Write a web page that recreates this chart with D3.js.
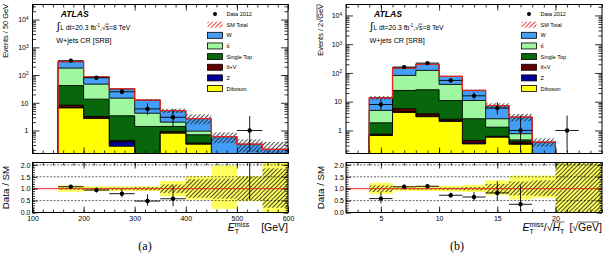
<!DOCTYPE html>
<html>
<head>
<meta charset="utf-8">
<script src="https://cdn.jsdelivr.net/npm/d3@7"></script>
<style>
  body { margin: 0; background: #fff; }
  svg { display: block; font-family: "Liberation Sans", Arial, sans-serif; }
</style>
</head>
<body>
<script>
// plot (a): ETmiss, 50 GeV bins
const edgesA = [100, 150, 200, 250, 300, 350, 400, 450, 500, 550, 600];
const wA   = [0, 127, 38, 16.9, 8.3, 3.2, 1.75, 0.6, 0.32, 0.21];
const ttA  = [0, 136, 33.5, 11.3, 2.8, 0.6, 0.25, 0, 0, 0];
const stA  = [0, 33.5, 10.3, 2.95, 1.4, 0.5, 0.35, 0, 0, 0];
const ttvA = [0, 1.5, 0.4, 0.05, 0, 0.1, 0.03, 0, 0, 0];
const zA   = [0, 0.2, 0.1, 0.12, 0, 0, 0, 0, 0, 0];
const dibA = [0, 6.5, 2.7, 0.27, 0, 0.8, 0.32, 0, 0, 0];
const dataA = [0, 330, 80, 25, 6, 3, 0, 0, 1, 0];
// relative uncertainty bands (ratio panel)
const yelLoA = [null, 0.87, 0.9, 0.9, 0.9, 0.68, 0.54, 0.15, 0.48, 0];
const yelHiA = [null, 1.13, 1.1, 1.1, 1.1, 1.32, 1.52, 1.97, 1.52, 2.1];
const hatLoA = [null, 0.96, 0.96, 0.95, 0.93, 0.82, 0.62, 0.58, 0.52, 0.2];
const hatHiA = [null, 1.04, 1.04, 1.05, 1.07, 1.18, 1.4, 1.42, 1.5, 1.85];

// plot (b): ETmiss / sqrt(HT), 2 sqrt(GeV) bins
const edgesB = [2, 4, 6, 8, 10, 12, 14, 16, 18, 20, 22, 24];
const wB   = [0, 8.7, 66, 77, 36, 13.6, 4.75, 2.13, 0.39, 0, 0];
const ttB  = [0, 3.15, 57.4, 97, 29, 8.45, 1.25, 0.3, 0, 0, 0];
const stB  = [0, 1.1, 18.9, 22.2, 8.5, 2.1, 0.67, 0.07, 0, 0, 0];
const ttvB = [0, 0.05, 1.2, 0.6, 0.3, 0.08, 0.05, 0.05, 0, 0, 0];
const zB   = [0, 0.02, 0.3, 0.2, 0.1, 0.03, 0, 0.02, 0, 0, 0];
const dibB = [0, 0.67, 4.2, 3.0, 2.06, 0.34, 0.58, 0.33, 0, 0, 0];
const dataB = [0, 8, 160, 220, 55, 16, 6, 1, 0, 1, 0];
const yelLoB = [null, 0.77, 0.9, 0.9, 0.88, 0.86, 0.73, 0.55, 0.62, 0, 0];
const yelHiB = [null, 1.25, 1.12, 1.12, 1.12, 1.16, 1.35, 1.55, 1.55, 2.1, 2.1];
const hatLoB = [null, 0.86, 0.96, 0.96, 0.95, 0.93, 0.8, 0.72, 0.7, 0, 0];
const hatHiB = [null, 1.14, 1.04, 1.04, 1.05, 1.07, 1.2, 1.3, 1.35, 2.1, 2.1];

const logTicks = [1, 10, 100, 1000, 10000];
const ratioTicks = [0, 0.5, 1, 1.5, 2];
const legendLabels = ["Data 2012", "SM Total"];
const layerNames = ["Diboson", "Z", "tt\u0304+V", "Single Top", "tt\u0304", "W"];
const layerColors = ["#ffff00", "#000099", "#660000", "#08670a", "#9ff79f", "#459ef5"];

const FONT = '"Liberation Sans", Arial, sans-serif';
const SERIF = '"Liberation Serif", "DejaVu Serif", serif';
const Y0 = 4.5, Y1 = 153.5, R0 = 162.5, R1 = 212.5;
const RED = "#e8251f";

const svg = d3.select("body").append("svg").attr("width", 604).attr("height", 253);
const defs = svg.append("defs");

function hatch(id, color, width) {
  const p = defs.append("pattern").attr("id", id)
    .attr("patternUnits", "userSpaceOnUse")
    .attr("width", 3).attr("height", 3)
    .attr("patternTransform", "rotate(45)");
  p.append("line").attr("x1", 0.5).attr("y1", 0).attr("x2", 0.5).attr("y2", 3)
    .attr("stroke", color).attr("stroke-width", width);
}
hatch("hatchK", "#1a1a1a", 0.8);
hatch("hatchR", RED, 0.9);

// garwood poisson interval (wilson-hilferty approx)
const poisLo = n => n * Math.pow(1 - 1 / (9 * n) - 1 / (3 * Math.sqrt(n)), 3);
const poisHi = n => (n + 1) * Math.pow(1 - 1 / (9 * (n + 1)) + 1 / (3 * Math.sqrt(n + 1)), 3);

// text made of pieces (sub/superscripts, overlines), returns width
function rich(parent, pieces) {
  let cx = 0, held = 0;
  pieces.forEach(pc => {
    if (pc.gap) { cx += pc.gap; return; }
    const t = parent.append("text").attr("x", cx).attr("y", pc.dy || 0)
      .attr("font-size", pc.size).text(pc.t);
    if (pc.it) t.attr("font-style", "italic");
    if (pc.bold) t.attr("font-weight", "bold");
    if (pc.serif) t.style("font-family", SERIF);
    const w = t.node().getComputedTextLength();
    if (pc.over != null) {
      parent.append("line").attr("x1", cx - 0.3).attr("x2", cx + w)
        .attr("y1", pc.over).attr("y2", pc.over)
        .attr("stroke", "#000").attr("stroke-width", 0.6);
    }
    if (pc.hold) held = w;
    else { cx += Math.max(w, held); held = 0; }
  });
  return cx;
}

function drawPlot(p) {
  const g = svg.append("g");
  const nb = p.edges.length - 1;
  const bins = d3.range(nb);
  const x = d3.scaleLinear().domain([p.edges[0], p.edges[nb]]).range([p.x0, p.x1]);
  const y = d3.scaleLog().domain(p.yDomain).range([Y1, Y0]);
  const r = d3.scaleLinear().domain([0, 2.1]).range([R1, R0]);

  defs.append("clipPath").attr("id", "top" + p.id).append("rect")
    .attr("x", p.x0).attr("y", Y0).attr("width", p.x1 - p.x0).attr("height", Y1 - Y0);
  defs.append("clipPath").attr("id", "rat" + p.id).append("rect")
    .attr("x", p.x0).attr("y", R0).attr("width", p.x1 - p.x0).attr("height", R1 - R0);

  // stack sums
  let run = bins.map(() => 0);
  const cums = p.layers.map(l => {
    run = run.map((v, i) => v + l[i]);
    return run.slice();
  });
  const total = cums[cums.length - 1];

  const yv = v => (v > p.yDomain[0] ? y(v) : Y1 + 2);
  const step = vals => {
    let s = `M${x(p.edges[0])},${Y1 + 2}`;
    bins.forEach(i => {
      s += `L${x(p.edges[i])},${yv(vals[i])}L${x(p.edges[i + 1])},${yv(vals[i])}`;
    });
    return s + `L${x(p.edges[nb])},${Y1 + 2}`;
  };
  const xl = i => x(p.edges[i]);
  const xr = i => x(p.edges[i + 1]);
  const xc = i => x((p.edges[i] + p.edges[i + 1]) / 2);

  // ---- top panel
  const gt = g.append("g").attr("clip-path", `url(#top${p.id})`);
  for (let k = cums.length - 1; k >= 0; k--) {
    gt.append("path").attr("d", step(cums[k]))
      .attr("fill", layerColors[k]).attr("stroke", "#000").attr("stroke-width", 0.9);
  }
  const bandBins = bins.filter(i => total[i] > 0 && p.hatLo[i] != null);
  gt.selectAll(".hb").data(bandBins).enter().append("rect")
    .attr("x", xl).attr("width", i => xr(i) - xl(i))
    .attr("y", i => yv(total[i] * p.hatHi[i]))
    .attr("height", i => yv(total[i] * p.hatLo[i]) - yv(total[i] * p.hatHi[i]))
    .attr("fill", "url(#hatchK)");
  gt.append("path").attr("d", step(total))
    .attr("fill", "none").attr("stroke", RED).attr("stroke-width", 1.3);

  const dBins = bins.filter(i => p.data[i] > 0);
  gt.selectAll(".dx").data(dBins).enter().append("line")
    .attr("x1", xl).attr("x2", xr)
    .attr("y1", i => y(p.data[i])).attr("y2", i => y(p.data[i]))
    .attr("stroke", "#000").attr("stroke-width", 0.9);
  gt.selectAll(".dy").data(dBins).enter().append("line")
    .attr("x1", xc).attr("x2", xc)
    .attr("y1", i => yv(poisLo(p.data[i]))).attr("y2", i => y(poisHi(p.data[i])))
    .attr("stroke", "#000").attr("stroke-width", 0.9);
  gt.selectAll(".dp").data(dBins).enter().append("circle")
    .attr("cx", xc).attr("cy", i => y(p.data[i])).attr("r", 2.2).attr("fill", "#000");

  // ---- ratio panel
  const gr = g.append("g").attr("clip-path", `url(#rat${p.id})`);
  const yb = bins.filter(i => p.yelLo[i] != null);
  gr.selectAll(".yb").data(yb).enter().append("rect")
    .attr("x", xl).attr("width", i => xr(i) - xl(i))
    .attr("y", i => r(p.yelHi[i])).attr("height", i => r(p.yelLo[i]) - r(p.yelHi[i]))
    .attr("fill", "#ffff5e");
  gr.selectAll(".hb").data(yb).enter().append("rect")
    .attr("x", xl).attr("width", i => xr(i) - xl(i))
    .attr("y", i => r(p.hatHi[i])).attr("height", i => r(p.hatLo[i]) - r(p.hatHi[i]))
    .attr("fill", "url(#hatchK)");
  gr.selectAll(".grid").data([0.5, 1.5, 2]).enter().append("line")
    .attr("x1", p.x0).attr("x2", p.x1).attr("y1", r).attr("y2", r)
    .attr("stroke", "#000").attr("stroke-width", 0.6).attr("stroke-dasharray", "2,1.5");
  gr.append("line").attr("x1", p.x0).attr("x2", p.x1).attr("y1", r(1)).attr("y2", r(1))
    .attr("stroke", RED).attr("stroke-width", 1);

  const rBins = dBins.filter(i => total[i] > 0);
  const rat = i => p.data[i] / total[i];
  gr.selectAll(".rx").data(rBins).enter().append("line")
    .attr("x1", xl).attr("x2", xr).attr("y1", i => r(rat(i))).attr("y2", i => r(rat(i)))
    .attr("stroke", "#000").attr("stroke-width", 0.9);
  gr.selectAll(".ry").data(rBins).enter().append("line")
    .attr("x1", xc).attr("x2", xc)
    .attr("y1", i => r(poisLo(p.data[i]) / total[i])).attr("y2", i => r(poisHi(p.data[i]) / total[i]))
    .attr("stroke", "#000").attr("stroke-width", 0.9);
  gr.selectAll(".rp").data(rBins).enter().append("circle")
    .attr("cx", xc).attr("cy", i => r(rat(i))).attr("r", 2.2).attr("fill", "#000");

  // ---- axes
  const ax = (gen, tx, ty, vals, size, fmt, pad) => {
    const a = g.append("g").attr("transform", `translate(${tx},${ty})`)
      .call(gen.tickValues(vals).tickSize(-size).tickPadding(pad || 3).tickFormat(fmt || (() => "")));
    a.select(".domain").remove();
    a.selectAll("line").attr("stroke", "#000").attr("stroke-width", 0.8);
    a.attr("font-family", FONT).attr("font-size", 7);
    a.selectAll("text").attr("fill", "#000");
    return a;
  };
  const yMin = [];
  for (let e = -1; e <= 4; e++) {
    for (let m = 2; m <= 9; m++) {
      const v = m * Math.pow(10, e);
      if (v > p.yDomain[0] && v < p.yDomain[1]) yMin.push(v);
    }
  }
  const la = ax(d3.axisLeft(y), p.x0, 0, logTicks, 7, d => (d >= 100 ? "10" : String(d)), 4);
  la.selectAll(".tick text").each(function (d) {
    const e = Math.round(Math.log10(d));
    if (e >= 2) d3.select(this).append("tspan").attr("dy", "-0.5em").attr("font-size", 4.6).text(e);
  });
  ax(d3.axisLeft(y), p.x0, 0, yMin, 3.5);
  ax(d3.axisRight(y), p.x1, 0, logTicks, 7);
  ax(d3.axisRight(y), p.x1, 0, yMin, 3.5);
  ax(d3.axisBottom(x), 0, Y1, p.xMajor, 6);
  ax(d3.axisBottom(x), 0, Y1, p.xMinor, 3);
  ax(d3.axisTop(x), 0, Y0, p.xMajor, 6);
  ax(d3.axisTop(x), 0, Y0, p.xMinor, 3);

  const rMin = d3.range(0, 2.05, 0.1);
  ax(d3.axisLeft(r), p.x0, 0, ratioTicks, 5, d3.format(".1f"), 2);
  ax(d3.axisLeft(r), p.x0, 0, rMin, 2.5);
  ax(d3.axisRight(r), p.x1, 0, ratioTicks, 5);
  ax(d3.axisRight(r), p.x1, 0, rMin, 2.5);
  ax(d3.axisBottom(x), 0, R1, p.xMajor, 6, d3.format("d"), 3.5);
  ax(d3.axisBottom(x), 0, R1, p.xMinor, 3);
  ax(d3.axisTop(x), 0, R0, p.xMajor, 6);
  ax(d3.axisTop(x), 0, R0, p.xMinor, 3);

  g.append("rect").attr("x", p.x0).attr("y", Y0).attr("width", p.x1 - p.x0).attr("height", Y1 - Y0)
    .attr("fill", "none").attr("stroke", "#000").attr("stroke-width", 1);
  g.append("rect").attr("x", p.x0).attr("y", R0).attr("width", p.x1 - p.x0).attr("height", R1 - R0)
    .attr("fill", "none").attr("stroke", "#000").attr("stroke-width", 1);

  // ---- legend
  const lg = g.append("g").attr("transform", `translate(${p.legX},14)`);
  const names = legendLabels.concat(layerNames.slice().reverse());
  const cols = layerColors.slice().reverse();
  names.forEach((n, i) => {
    const yy = i * 10.65;
    if (i === 0) {
      lg.append("circle").attr("cx", 8).attr("cy", yy).attr("r", 2).attr("fill", "#000");
    } else if (i === 1) {
      lg.append("rect").attr("x", 0.5).attr("y", yy - 3).attr("width", 15).attr("height", 6)
        .attr("fill", "url(#hatchR)");
    } else {
      lg.append("rect").attr("x", 0.5).attr("y", yy - 3).attr("width", 15).attr("height", 6)
        .attr("fill", cols[i - 2]).attr("stroke", "#000").attr("stroke-width", 0.8);
    }
    lg.append("text").attr("x", 19.5).attr("y", yy + 2).attr("font-size", 5.5).text(n);
  });

  // ---- labels
  rich(g.append("g").attr("transform", `translate(${p.atlasX},16.5)`),
    [{ t: "ATLAS", size: 8.6, bold: true, it: true }]);
  rich(g.append("g").attr("transform", `translate(${p.atlasX - 4},29.5)`), [
    { t: "\u222B", size: 11 }, { gap: 0.5 },
    { t: "L dt=20.3 fb", size: 6.8 }, { t: "-1", size: 4.5, dy: -3 },
    { t: ", ", size: 6.8 }, { t: "\u221A", size: 6.8 }, { t: "s", size: 6.8, over: -5.4 },
    { t: "=8 TeV", size: 6.8 }
  ]);
  rich(g.append("g").attr("transform", `translate(${p.atlasX - 4.5},42.5)`),
    [{ t: "W+jets CR [SRB]", size: 7.2 }]);

  const gy = g.append("g");
  const wy = rich(gy, p.yTitle);
  gy.attr("transform", `translate(${p.yTitleX},4) rotate(-90) translate(${-wy},0)`);

  const gd = g.append("g");
  const wd = rich(gd, [{ t: "Data / SM", size: 9.8 }]);
  gd.attr("transform", `translate(${p.yTitleX + 1},${(R0 + R1) / 2}) rotate(-90) translate(${-wd / 2},0)`);

  const gx = g.append("g");
  const wx = rich(gx, p.xTitle);
  gx.attr("transform", `translate(${p.x1 - wx},231)`);

  const gc = g.append("g");
  const wc = rich(gc, [{ t: p.caption, size: 12, serif: true }]);
  gc.attr("transform", `translate(${p.capX - wc / 2},249.5)`);
}

drawPlot({
  id: "a", x0: 32.5, x1: 288, edges: edgesA,
  layers: [dibA, zA, ttvA, stA, ttA, wA], data: dataA,
  yelLo: yelLoA, yelHi: yelHiA, hatLo: hatLoA, hatHi: hatHiA,
  yDomain: [0.148, 35000],
  xMajor: d3.range(100, 601, 100), xMinor: d3.range(100, 601, 20),
  legX: 207, atlasX: 60.7, yTitleX: 8, capX: 145, caption: "(a)",
  yTitle: [{ t: "Events / 50 GeV", size: 7.4 }],
  xTitle: [
    { t: "E", size: 10.5, it: true }, { t: "miss", size: 7, dy: -4.5, hold: true },
    { t: "T", size: 7, dy: 2.5 }, { gap: 12 }, { t: "[GeV]", size: 10.5 }
  ]
});

drawPlot({
  id: "b", x0: 346, x1: 602, edges: edgesB,
  layers: [dibB, zB, ttvB, stB, ttB, wB], data: dataB,
  yelLo: yelLoB, yelHi: yelHiB, hatLo: hatLoB, hatHi: hatHiB,
  yDomain: [0.158, 24000],
  xMajor: [5, 10, 15, 20], xMinor: d3.range(2, 25, 1),
  legX: 521, atlasX: 374, yTitleX: 323, capX: 457, caption: "(b)",
  yTitle: [
    { t: "Events / 2 ", size: 7.4 }, { t: "\u221A", size: 7.4 },
    { t: "GeV", size: 7.4, over: -6 }
  ],
  xTitle: [
    { t: "E", size: 10.5, it: true }, { t: "miss", size: 7, dy: -4.5, hold: true },
    { t: "T", size: 7, dy: 2.5 }, { t: "/", size: 10.5 }, { t: "\u221A", size: 10.5 },
    { t: "H", size: 10.5, it: true, over: -9 }, { t: "T", size: 7, dy: 2.5, over: -9 },
    { gap: 5 }, { t: "[", size: 10.5 }, { t: "\u221A", size: 10.5 },
    { t: "GeV", size: 10.5, over: -9 }, { t: "]", size: 10.5 }
  ]
});
</script>
</body>
</html>
